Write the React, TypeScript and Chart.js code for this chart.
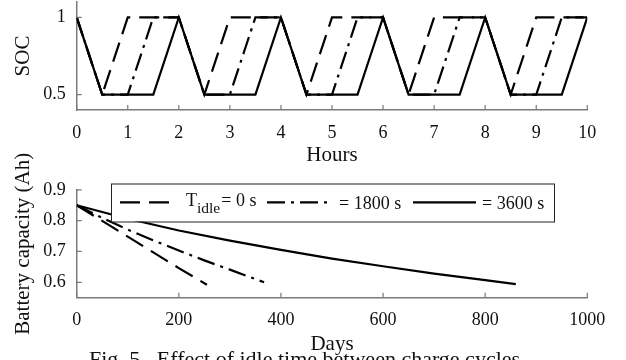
import { useEffect, useRef } from 'react';
import { Chart, registerables } from 'chart.js';

Chart.register(...registerables);

// ---------- data: top panel (SOC vs hours) ----------
const HOURS_IDLE_0 = [0, 0.5, 1, 2, 2.5, 3, 4, 4.5, 5, 6, 6.5, 7, 8, 8.5, 9, 10];
const SOC_IDLE_0 = [1, 0.5, 1, 1, 0.5, 1, 1, 0.5, 1, 1, 0.5, 1, 1, 0.5, 1, 1];
const HOURS_IDLE_1800 = [0, 0.5, 1, 1.5, 2, 2.5, 3, 3.5, 4, 4.5, 5, 5.5, 6, 6.5, 7, 7.5, 8, 8.5, 9, 9.5, 10];
const SOC_IDLE_1800 = [1, 0.5, 0.5, 1, 1, 0.5, 0.5, 1, 1, 0.5, 0.5, 1, 1, 0.5, 0.5, 1, 1, 0.5, 0.5, 1, 1];
const HOURS_IDLE_3600 = [0, 0.5, 1.5, 2, 2.5, 3.5, 4, 4.5, 5.5, 6, 6.5, 7.5, 8, 8.5, 9.5, 10];
const SOC_IDLE_3600 = [1, 0.5, 0.5, 1, 0.5, 0.5, 1, 0.5, 0.5, 1, 0.5, 0.5, 1, 0.5, 0.5, 1];
const HOUR_TICKS = [0, 1, 2, 3, 4, 5, 6, 7, 8, 9, 10];
const SOC_TICKS = [0.5, 1];

// ---------- data: bottom panel (capacity vs days) ----------
const DAYS_IDLE_0 = [0, 50, 100, 150, 200, 255];
const CAP_IDLE_0 = [0.85, 0.799, 0.748, 0.697, 0.646, 0.592];
const DAYS_IDLE_1800 = [0, 50, 100, 150, 200, 250, 300, 367];
const CAP_IDLE_1800 = [0.85, 0.809, 0.771, 0.736, 0.703, 0.671, 0.641, 0.6];
const DAYS_IDLE_3600 = [0, 100, 200, 300, 400, 500, 600, 700, 800, 860];
const CAP_IDLE_3600 = [0.85, 0.806, 0.768, 0.735, 0.705, 0.677, 0.652, 0.628, 0.607, 0.594];
const DAY_TICKS = [0, 200, 400, 600, 800, 1000];
const CAP_TICKS = [0.6, 0.7, 0.8, 0.9];

const LEGEND_PREFIX = 'T';
const LEGEND_SUB = 'idle';
const LEGEND_LABELS = ['= 0 s', '= 1800 s', '= 3600 s'];

const CAPTION = 'Fig. 5.  Effect of idle time between charge cycles.';

// ---------- styles / layout ----------
const FONT = "'Liberation Serif', 'Times New Roman', serif";
const TEXT = '#111';
const AXIS_COLOR = '#7a7a7a';
const AXIS_WIDTH = 1.5;
const TICK_LEN = 5;
const LINE_W = 2.2;
const DASH = [20, 9];
const DASH_DOT = [18, 6, 3, 6];
const BOT_TOP = 130; // page y where the bottom canvas starts
const OFF = 180 - BOT_TOP;

const pts = (xs: number[], ys: number[]) => xs.map((x, i) => ({ x, y: ys[i] }));

const inwardTicks = {
  id: 'inwardTicks',
  afterDatasetsDraw(chart: any) {
    const { ctx, chartArea } = chart;
    const sx = chart.scales.x;
    const sy = chart.scales.y;
    ctx.save();
    ctx.strokeStyle = AXIS_COLOR;
    ctx.lineWidth = 1.2;
    ctx.beginPath();
    sx.ticks.forEach((t: any) => {
      const px = sx.getPixelForValue(t.value);
      ctx.moveTo(px, chartArea.bottom);
      ctx.lineTo(px, chartArea.bottom - TICK_LEN);
    });
    sy.ticks.forEach((t: any) => {
      const py = sy.getPixelForValue(t.value);
      ctx.moveTo(chartArea.left, py);
      ctx.lineTo(chartArea.left + TICK_LEN, py);
    });
    ctx.stroke();
    ctx.restore();
  },
};

const boxLegend = {
  id: 'boxLegend',
  afterDraw(chart: any) {
    const { ctx } = chart;
    const box = { x: 111, y: 3.5 + OFF, w: 443, h: 38 };
    ctx.save();
    ctx.fillStyle = '#fff';
    ctx.fillRect(box.x, box.y, box.w, box.h);
    ctx.strokeStyle = '#222';
    ctx.lineWidth = 1;
    ctx.strokeRect(box.x + 0.5, box.y + 0.5, box.w, box.h);
    const lineY = 22.3 + OFF;
    const samples = [
      { x0: 120, x1: 175, tx: 186 },
      { x0: 267, x1: 330, tx: 339 },
      { x0: 413, x1: 476, tx: 482 },
    ];
    const dsets = chart.data.datasets;
    samples.forEach((s, i) => {
      const ds = dsets[i];
      ctx.beginPath();
      ctx.setLineDash(ds.borderDash || []);
      ctx.lineWidth = ds.borderWidth;
      ctx.strokeStyle = ds.borderColor;
      ctx.moveTo(s.x0, lineY);
      ctx.lineTo(s.x1, lineY);
      ctx.stroke();
      ctx.setLineDash([]);
      ctx.fillStyle = TEXT;
      ctx.textBaseline = 'alphabetic';
      ctx.textAlign = 'left';
      if (i === 0) {
        ctx.font = `18px ${FONT}`;
        ctx.fillText(LEGEND_PREFIX, s.tx, 25.5 + OFF);
        const w = ctx.measureText(LEGEND_PREFIX).width;
        ctx.font = `15.5px ${FONT}`;
        ctx.fillText(LEGEND_SUB, s.tx + w, 33 + OFF);
        const w2 = ctx.measureText(LEGEND_SUB).width;
        ctx.font = `18px ${FONT}`;
        ctx.fillText(LEGEND_LABELS[i], s.tx + w + w2 + 1, 25.5 + OFF);
      } else {
        ctx.font = `18px ${FONT}`;
        ctx.fillText(LEGEND_LABELS[i], s.tx, 29 + OFF);
      }
    });
    ctx.restore();
  },
};

function axisX(min: number, max: number, ticks: number[], title: string, height: number, tickPad: number, titlePad: number) {
  return {
    type: 'linear',
    min,
    max,
    grid: { display: false, drawTicks: false },
    border: { display: true, color: AXIS_COLOR, width: AXIS_WIDTH },
    ticks: {
      color: TEXT,
      font: { family: FONT, size: 18 },
      padding: tickPad,
      maxRotation: 0,
      autoSkip: false,
      callback: (v: any) => String(v),
    },
    title: { display: true, text: title, color: TEXT, font: { family: FONT, size: 21 }, padding: { top: 0, bottom: titlePad } },
    afterBuildTicks: (s: any) => {
      s.ticks = ticks.map((v) => ({ value: v }));
    },
    afterFit: (s: any) => {
      s.height = height;
      s.paddingLeft = 0;
      s.paddingRight = 0;
    },
  };
}

function axisY(min: number, max: number, ticks: number[], title: string) {
  return {
    type: 'linear',
    min,
    max,
    grid: { display: false, drawTicks: false },
    border: { display: true, color: AXIS_COLOR, width: AXIS_WIDTH },
    ticks: {
      color: TEXT,
      font: { family: FONT, size: 18 },
      padding: 11,
      callback: (v: any) => String(Math.round(v * 100) / 100),
    },
    title: { display: true, text: title, color: TEXT, font: { family: FONT, size: 21 }, padding: { top: 11, bottom: 0 } },
    afterBuildTicks: (s: any) => {
      s.ticks = ticks.map((v) => ({ value: v }));
    },
    afterFit: (s: any) => {
      s.width = 76.7;
      s.paddingTop = 0;
      s.paddingBottom = 0;
    },
  };
}

function series(data: any[], dash: number[], order: number) {
  return {
    data,
    borderColor: '#000',
    borderWidth: LINE_W,
    borderDash: dash,
    pointRadius: 0,
    fill: false,
    tension: 0,
    order,
  };
}

export default function App() {
  const topRef = useRef<HTMLCanvasElement>(null);
  const botRef = useRef<HTMLCanvasElement>(null);

  useEffect(() => {
    const top = new Chart(topRef.current as HTMLCanvasElement, {
      type: 'line',
      data: {
        datasets: [
          series(pts(HOURS_IDLE_0, SOC_IDLE_0), DASH, 2),
          series(pts(HOURS_IDLE_1800, SOC_IDLE_1800), DASH_DOT, 1),
          series(pts(HOURS_IDLE_3600, SOC_IDLE_3600), [], 0),
        ],
      },
      options: {
        animation: false,
        responsive: false,
        devicePixelRatio: 1,
        layout: { padding: { left: 0, right: 38.7, top: 2, bottom: 0 } },
        plugins: { legend: { display: false }, tooltip: { enabled: false } },
        scales: {
          x: axisX(0, 10, HOUR_TICKS, 'Hours', 70, 12.5, 12.4),
          y: axisY(0.4, 1.1, SOC_TICKS, 'SOC'),
        },
      } as any,
      plugins: [inwardTicks],
    } as any);

    const bot = new Chart(botRef.current as HTMLCanvasElement, {
      type: 'line',
      data: {
        datasets: [
          series(pts(DAYS_IDLE_0, CAP_IDLE_0), DASH, 2),
          series(pts(DAYS_IDLE_1800, CAP_IDLE_1800), DASH_DOT, 1),
          series(pts(DAYS_IDLE_3600, CAP_IDLE_3600), [], 0),
        ],
      },
      options: {
        animation: false,
        responsive: false,
        devicePixelRatio: 1,
        layout: { padding: { left: 0, right: 38.7, top: 9.8 + OFF, bottom: 0 } },
        plugins: { legend: { display: false }, tooltip: { enabled: false } },
        scales: {
          x: axisX(0, 1000, DAY_TICKS, 'Days', 62.3, 11.5, 3.2),
          y: axisY(0.55, 0.9, CAP_TICKS, 'Battery capacity (Ah)'),
        },
      } as any,
      plugins: [inwardTicks, boxLegend],
    } as any);

    return () => {
      top.destroy();
      bot.destroy();
    };
  }, []);

  return (
    <div
      style={{
        position: 'fixed',
        left: 0,
        top: 0,
        width: 626,
        height: 360,
        overflow: 'hidden',
        background: '#fff',
      }}
    >
      <canvas ref={topRef} width={626} height={180} style={{ position: 'absolute', left: 0, top: 0, width: 626, height: 180 }} />
      <canvas
        ref={botRef}
        width={626}
        height={360 - BOT_TOP}
        style={{ position: 'absolute', left: 0, top: BOT_TOP, width: 626, height: 360 - BOT_TOP }}
      />
      <div
        style={{
          position: 'absolute',
          left: 89,
          top: 347.6,
          fontFamily: FONT,
          fontSize: 22,
          lineHeight: '22px',
          color: TEXT,
          whiteSpace: 'pre',
        }}
      >
        {CAPTION}
      </div>
    </div>
  );
}
